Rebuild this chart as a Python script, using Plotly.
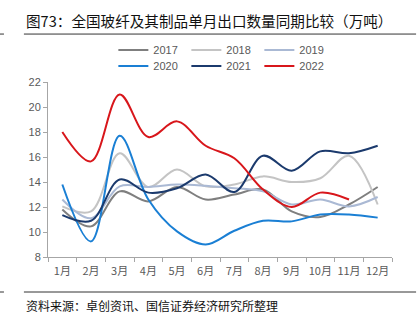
import plotly.graph_objects as go

months = ["1月", "2月", "3月", "4月", "5月", "6月", "7月", "8月", "9月", "10月", "11月", "12月"]

y2017 = [11.8, 10.45, 13.25, 12.45, 13.6, 12.6, 13.0, 13.4, 11.65, 11.2, 12.2, 13.6]
y2018 = [12.05, 11.65, 16.3, 13.6, 15.0, 13.65, 13.8, 14.45, 14.0, 14.3, 16.1, 12.2]
y2019 = [12.6, 11.1, 13.65, 13.6, 13.8, 13.7, 13.5, 13.25, 12.2, 12.6, 12.05, 12.8]
y2020 = [13.8, 9.25, 17.7, 12.6, 10.05, 9.0, 10.1, 10.9, 10.85, 11.4, 11.4, 11.15]
y2021 = [11.35, 10.9, 14.2, 13.15, 13.5, 14.6, 13.2, 16.1, 14.9, 16.45, 16.3, 16.9]
y2022 = [18.0, 15.65, 21.0, 17.6, 18.85, 16.9, 15.9, 13.4, 12.0, 13.15, 12.6]

# (name, values, colour, legend row)
series = [
    ("2017", y2017, "#7f7f7f", "legend"),
    ("2018", y2018, "#c4c4c4", "legend"),
    ("2019", y2019, "#aab9d4", "legend"),
    ("2020", y2020, "#1a7fd4", "legend2"),
    ("2021", y2021, "#1b3a6d", "legend2"),
    ("2022", y2022, "#d8161b", "legend2"),
]

fig = go.Figure()
for name, vals, color, leg in series:
    fig.add_trace(go.Scatter(
        x=months[:len(vals)], y=vals, name=name, mode="lines", legend=leg,
        line=dict(color=color, width=2, shape="spline", smoothing=1.0),
    ))

font_cn = "Noto Sans CJK SC"
axis_col = "#a6a6a6"
tick_col = "#595959"

legend_style = dict(
    orientation="h", x=0.19, xanchor="left", yanchor="middle",
    entrywidth=28, entrywidthmode="pixels",
    font=dict(family="Arial, Liberation Sans", size=11, color=tick_col),
    tracegroupgap=0, itemwidth=30, bgcolor="rgba(0,0,0,0)",
)

fig.update_layout(
    width=420, height=327,
    margin=dict(l=48, r=28, t=82, b=70),
    paper_bgcolor="white", plot_bgcolor="white",
    font=dict(family=font_cn, size=11, color=tick_col),
    showlegend=True,
    legend=dict(legend_style, y=(257 - 50) / 175),
    legend2=dict(legend_style, y=(257 - 66) / 175),
    xaxis=dict(
        type="category", range=[-0.5, 11.5], showgrid=False, showline=True,
        linecolor=axis_col, linewidth=1, ticks="outside", ticklen=4,
        tickcolor=axis_col, tickson="boundaries", tickangle=0,
        ticklabelstandoff=4,
        tickfont=dict(family=font_cn, size=11, color=tick_col),
        zeroline=False,
    ),
    yaxis=dict(
        range=[8, 22], dtick=2, showgrid=False, showline=True, linecolor=axis_col,
        linewidth=1, ticks="outside", ticklen=4, tickcolor=axis_col,
        tickfont=dict(family="Arial, Liberation Sans", size=11, color=tick_col),
        zeroline=False,
    ),
)

# Title, rules and source note
fig.add_annotation(
    text="图73：全国玻纤及其制品单月出口数量同期比较（万吨）",
    xref="paper", yref="paper", x=-0.07, y=1.354, xanchor="left", yanchor="middle",
    showarrow=False, font=dict(family=font_cn, size=14.6, color="#111111"),
)
fig.add_shape(type="line", xref="paper", yref="paper", x0=-0.07, x1=1.07,
              y0=1.274, y1=1.274, line=dict(color="#333333", width=1))
fig.add_shape(type="line", xref="paper", yref="paper", x0=-0.14, x1=-0.128,
              y0=1.274, y1=1.274, line=dict(color="#333333", width=1))
fig.add_shape(type="line", xref="paper", yref="paper", x0=-0.07, x1=1.07,
              y0=-0.2, y1=-0.2, line=dict(color="#333333", width=1))
fig.add_shape(type="line", xref="paper", yref="paper", x0=-0.14, x1=-0.128,
              y0=-0.2, y1=-0.2, line=dict(color="#333333", width=1))
fig.add_annotation(
    text="资料来源：卓创资讯、国信证券经济研究所整理",
    xref="paper", yref="paper", x=-0.07, y=-0.276, xanchor="left", yanchor="middle",
    showarrow=False, font=dict(family=font_cn, size=12, color="#111111"),
)

fig.write_html("out.html")
